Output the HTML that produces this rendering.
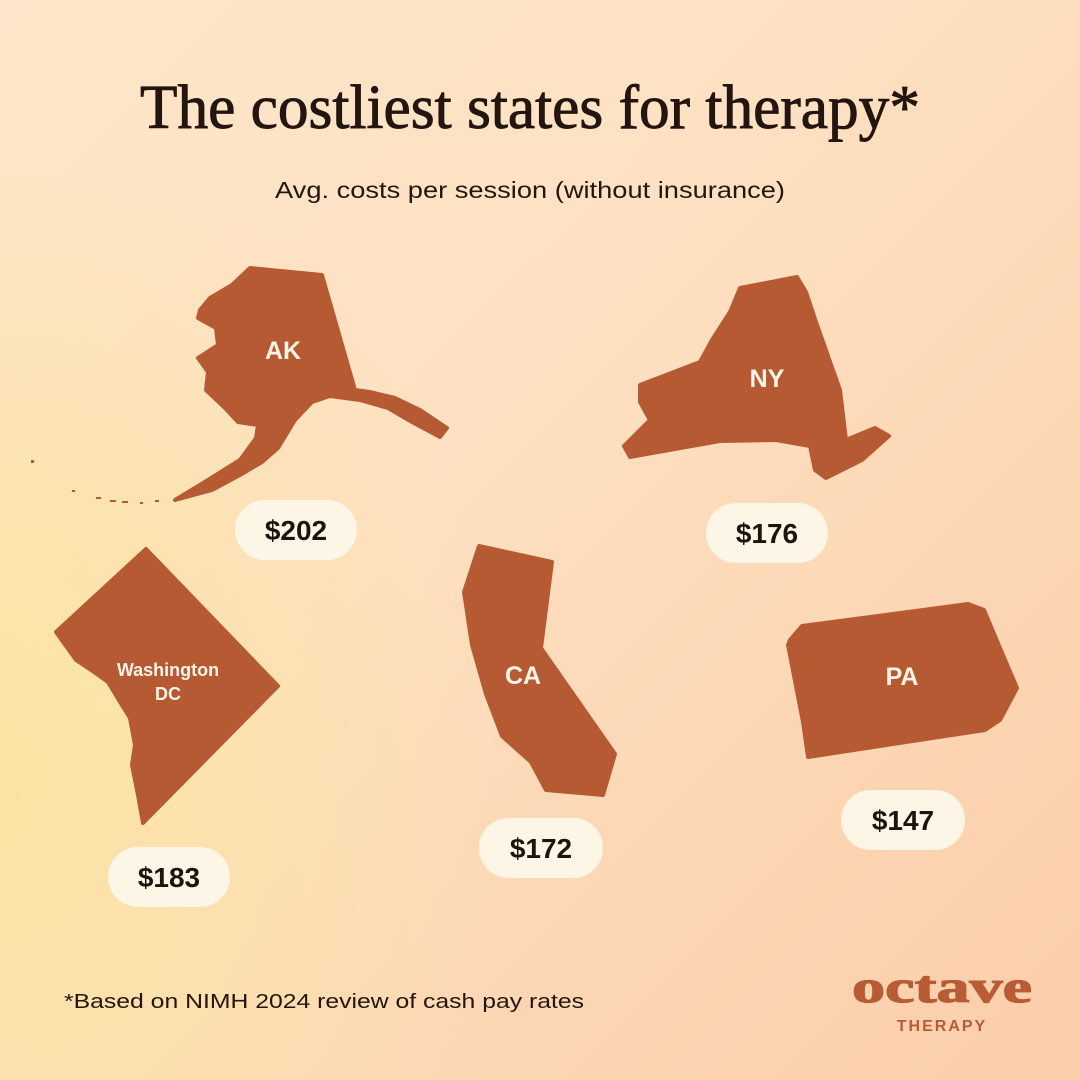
<!DOCTYPE html>
<html><head><meta charset="utf-8"><style>
html,body{margin:0;padding:0}
body{width:1080px;height:1080px;overflow:hidden;position:relative;
background:linear-gradient(135deg,#fde6c9 0%,#fde1c2 40%,#fcd5b2 75%,#fbcdaa 100%);}
.y{position:absolute;inset:0;background:radial-gradient(ellipse 500px 650px at 0px 780px,rgba(251,228,160,0.95),rgba(251,228,160,0) 100%);}
svg{position:absolute;left:0;top:0}
</style></head><body><div class="y"></div>
<svg width="1080" height="1080" viewBox="0 0 1080 1080">
<text x="140" y="128" font-family="Liberation Serif, serif" font-size="62" fill="#23150f" stroke="#23150f" stroke-width="0.9" textLength="780" lengthAdjust="spacingAndGlyphs">The costliest states for therapy*</text>
<text x="275" y="198" font-family="Liberation Sans, sans-serif" font-size="23" fill="#23150f" textLength="510" lengthAdjust="spacingAndGlyphs">Avg. costs per session (without insurance)</text>
<g fill="#b55a33" stroke="#b55a33" stroke-width="4" stroke-linejoin="round">
<polygon points="210,298 232,285 250,268 322,275 355,390 370,392 395,398 420,410 447,428 440,437 412,422 388,408 360,400 330,396 312,402 295,420 278,448 262,462 240,475 212,490 175,500 208,480 240,460 256,438 258,425 238,422 225,408 206,390 208,372 198,358 218,345 216,328 198,318 200,310"/>
<polygon points="640,385 700,362 712,340 730,312 740,288 797,277 806,292 816,322 840,390 846,440 875,428 889,436 862,460 826,478 815,470 810,446 776,440 720,441 630,457 624,446 650,420 640,402"/>
<polygon points="146,549 278,686 143,823 138,795 132,765 135,745 130,718 120,702 108,682 94,672 76,660 56,632"/>
<polygon points="479,546 552,562 541,648 615,754 603,795 546,790 531,762 502,736 486,694 472,645 464,592"/>
<polygon points="790,640 802,626 968,604 984,610 1000,648 1017,688 1000,720 985,730 808,757 803,722 788,645"/>
</g>
<g fill="#b55a33">
<rect x="31" y="460" width="3" height="3"/><rect x="96" y="497" width="5" height="2"/><rect x="110" y="500" width="6" height="2"/><rect x="122" y="501" width="6" height="2"/><rect x="140" y="502" width="3" height="2"/><rect x="155" y="500" width="4" height="2"/><rect x="72" y="490" width="3" height="2"/>
</g>
<g font-family="Liberation Sans, sans-serif" font-weight="bold" fill="#fdf4e6" text-anchor="middle">
<text x="283" y="359" font-size="25">AK</text>
<text x="767" y="387" font-size="25">NY</text>
<text x="523" y="684" font-size="25">CA</text>
<text x="902" y="685" font-size="25">PA</text>
<text x="168" y="676" font-size="18">Washington</text>
<text x="168" y="700" font-size="18">DC</text>
</g>
<g fill="#fdf6e6">
<rect x="235" y="500" width="122" height="60" rx="30"/>
<rect x="706" y="503" width="122" height="60" rx="30"/>
<rect x="108" y="847" width="122" height="60" rx="30"/>
<rect x="479" y="818" width="124" height="60" rx="30"/>
<rect x="841" y="790" width="124" height="60" rx="30"/>
</g>
<g font-family="Liberation Sans, sans-serif" font-weight="bold" fill="#1e130d" text-anchor="middle" font-size="28">
<text x="296" y="540">$202</text>
<text x="767" y="543">$176</text>
<text x="169" y="887">$183</text>
<text x="541" y="858">$172</text>
<text x="903" y="830">$147</text>
</g>
<text x="64" y="1008" font-family="Liberation Sans, sans-serif" font-size="20" fill="#23150f" textLength="520" lengthAdjust="spacingAndGlyphs">*Based on NIMH 2024 review of cash pay rates</text>
<text x="942" y="1002" text-anchor="middle" font-family="Liberation Serif, serif" font-weight="bold" font-size="46" fill="#b85c35" stroke="#b85c35" stroke-width="1.2" textLength="180" lengthAdjust="spacingAndGlyphs">octave</text>
<text x="942" y="1031" text-anchor="middle" font-family="Liberation Sans, sans-serif" font-weight="bold" font-size="16" fill="#b85c35" letter-spacing="2">THERAPY</text>
</svg>
</body></html>
